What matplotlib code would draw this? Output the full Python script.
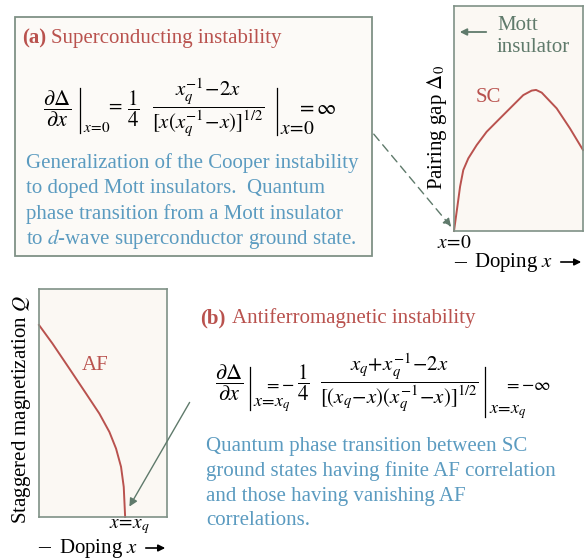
import numpy as np
import matplotlib
matplotlib.use("Agg")
import matplotlib.pyplot as plt
from matplotlib.patches import Rectangle

plt.rcParams["font.family"] = ["Liberation Serif", "DejaVu Serif"]
plt.rcParams["mathtext.fontset"] = "stix"

RED = "#b9524e"
BLUE = "#5b9bc0"
EDGE = "#7f9186"
GREEN = "#5f7a6b"
FACE = "#fbf8f3"

# schematic curves (doping, order parameter), normalised to the panel
sc_x = [0.0, 0.026, 0.047, 0.072, 0.111, 0.176, 0.253, 0.357, 0.460, 0.537,
        0.602, 0.636, 0.680, 0.796, 0.899, 1.0]
sc_gap = [0.0, 0.108, 0.197, 0.271, 0.323, 0.382, 0.441, 0.501, 0.560, 0.604,
          0.624, 0.627, 0.615, 0.545, 0.456, 0.360]
af_x = [0.0, 0.105, 0.236, 0.367, 0.471, 0.550, 0.602, 0.641, 0.662, 0.673]
af_q = [0.842, 0.761, 0.652, 0.542, 0.454, 0.373, 0.300, 0.220, 0.132, 0.0]

W, H = 584, 559
fig = plt.figure(figsize=(W / 100, H / 100), dpi=100)


def px_axes(x0, y0, x1, y1):
    return fig.add_axes([x0 / W, (H - y1) / H, (x1 - x0) / W, (y1 - y0) / H])


# ---- top-right panel: pairing gap
ax1 = px_axes(454, 6, 583, 231)
ax1.set_facecolor(FACE)
ax1.plot(sc_x, sc_gap, color=RED, lw=1.4, clip_on=False)
ax1.set_xlim(0, 1); ax1.set_ylim(0, 1)
ax1.set_xticks([]); ax1.set_yticks([])
for s in ax1.spines.values():
    s.set_color(EDGE); s.set_linewidth(1.2)

# ---- bottom-left panel: staggered magnetization
ax2 = px_axes(39, 289, 167, 517)
ax2.set_facecolor(FACE)
ax2.plot(af_x, af_q, color=RED, lw=1.4, clip_on=False)
ax2.set_xlim(0, 1); ax2.set_ylim(0, 1)
ax2.set_xticks([]); ax2.set_yticks([])
for s in ax2.spines.values():
    s.set_color(EDGE); s.set_linewidth(1.2)

# overlay in pixel coordinates, on top of everything
ov = fig.add_axes([0, 0, 1, 1])
ov.set_xlim(0, W); ov.set_ylim(H, 0); ov.axis("off")
ov.set_zorder(10)

# ---- panel (a) text box
ov.add_patch(Rectangle((15, 17), 357, 239, fc="#fcfaf7", ec=EDGE, lw=1.3, zorder=1))
ov.text(22, 38, "(a)", color=RED, fontsize=15, fontweight="bold", va="center")
ov.text(51, 38, "Superconducting instability", color=RED, fontsize=15, va="center")

eq = dict(color="black", ha="center", va="center", zorder=3)
ov.text(57, 109, r"$\dfrac{\partial\Delta}{\partial x}$", fontsize=16, **eq)
ov.plot([80, 80], [88, 133], color="black", lw=0.9)
ov.text(97, 128, r"$x\!=\!0$", fontsize=11, **eq)
ov.text(115, 106, r"$=$", fontsize=14, **eq)
ov.text(133, 109, r"$\dfrac{1}{4}$", fontsize=15, **eq)
ov.text(208, 108, r"$\dfrac{x_q^{-1}\!-\!2x}{[x(x_q^{-1}\!-\!x)]^{1/2}}$", fontsize=15, **eq)
ov.plot([277, 277], [88, 135], color="black", lw=0.9)
ov.text(316, 109, r"$=\infty$", fontsize=15, **eq)
ov.text(297, 129, r"$x\!=\!0$", fontsize=14, **eq)

a_lines = ["Generalization of the Cooper instability",
           "to doped Mott insulators.  Quantum",
           "phase transition from a Mott insulator",
           r"to $d$-wave superconductor ground state."]
for i, s in enumerate(a_lines):
    ov.text(26, 163 + 25.3 * i, s, color=BLUE, fontsize=15, va="center")

# ---- panel (b) text
ov.text(200, 318, "(b)", color=RED, fontsize=15, fontweight="bold", va="center")
ov.text(232, 318, "Antiferromagnetic instability", color=RED, fontsize=15, va="center")

ov.text(229, 383, r"$\dfrac{\partial\Delta}{\partial x}$", fontsize=16, **eq)
ov.plot([250, 250], [367, 410], color="black", lw=0.9)
ov.text(272, 405, r"$x\!=\!x_q$", fontsize=13, **eq)
ov.text(279, 384, r"$=-$", fontsize=13, **eq)
ov.text(303, 383, r"$\dfrac{1}{4}$", fontsize=15, **eq)
ov.text(399, 383, r"$\dfrac{x_q\!+\!x_q^{-1}\!-\!2x}{[(x_q\!-\!x)(x_q^{-1}\!-\!x)]^{1/2}}$",
        fontsize=15, **eq)
ov.plot([485, 485], [367, 417], color="black", lw=0.9)
ov.text(528, 385, r"$=-\infty$", fontsize=13, **eq)
ov.text(508, 412, r"$x\!=\!x_q$", fontsize=13, **eq)

b_lines = ["Quantum phase transition between SC",
           "ground states having finite AF correlation",
           "and those having vanishing AF",
           "correlations."]
for i, s in enumerate(b_lines):
    ov.text(206, 447 + 24.5 * i, s, color=BLUE, fontsize=15, va="center")

# ---- labels for the pairing-gap panel
ov.text(488, 97, "SC", color=RED, fontsize=15, va="center", ha="center")
ov.text(497, 25, "Mott", color=GREEN, fontsize=15, va="center")
ov.text(497, 47, "insulator", color=GREEN, fontsize=15, va="center")
ov.annotate("", xy=(457, 32), xytext=(489, 32),
            arrowprops=dict(arrowstyle="-|>", color=GREEN, lw=1.3, mutation_scale=10))
ov.text(454, 243, r"$x\!=\!0$", fontsize=14, ha="center", va="center")
ov.text(437, 127, r"Pairing gap $\Delta_0$", rotation=90, fontsize=15,
        ha="center", va="center")
ov.text(454, 263, "–", fontsize=17, va="center")
ov.text(474, 262, r"Doping $x$", fontsize=15, va="center")
ov.annotate("", xy=(584, 262), xytext=(558, 262),
            arrowprops=dict(arrowstyle="-|>", color="black", lw=1.2, mutation_scale=10))

# dashed arrow from box (a) to x=0
ov.annotate("", xy=(453, 229), xytext=(372, 132),
            arrowprops=dict(arrowstyle="-|>", color=GREEN, lw=1.0, ls=(0, (6, 4)),
                            mutation_scale=12))

# ---- labels for the magnetization panel
ov.text(95, 365, "AF", color=RED, fontsize=15, ha="center", va="center")
ov.text(22, 410, r"Staggered magnetization $Q$", rotation=90, fontsize=15,
        ha="center", va="center")
ov.text(129, 527, r"$x\!=\!x_q$", fontsize=14, ha="center", va="center")
ov.text(38, 548, "–", fontsize=17, va="center")
ov.text(59, 548, r"Doping $x$", fontsize=15, va="center")
ov.annotate("", xy=(168, 548), xytext=(143, 548),
            arrowprops=dict(arrowstyle="-|>", color="black", lw=1.2, mutation_scale=10))

ov.annotate("", xy=(128, 509), xytext=(191, 400),
            arrowprops=dict(arrowstyle="-|>", color=GREEN, lw=1.0, mutation_scale=12))

fig.savefig("out.png", dpi=100)
